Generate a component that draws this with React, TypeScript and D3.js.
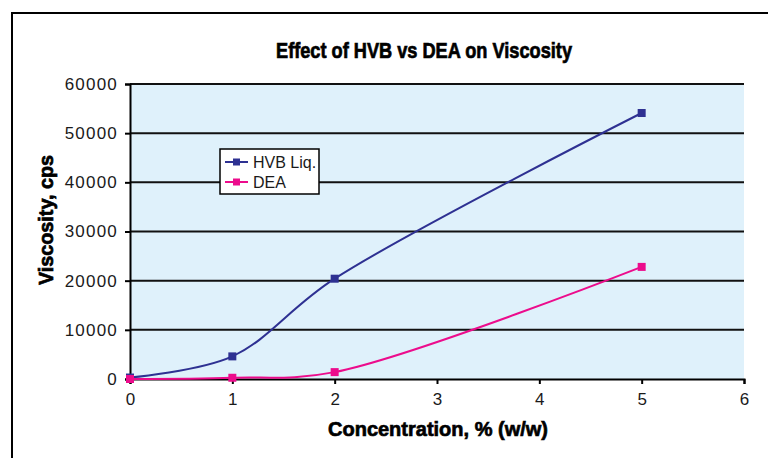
import React, { useRef, useEffect } from "react";
import * as d3 from "d3";

const concentrations = [0, 1, 2, 5];
const hvbValues = [300, 4600, 20400, 54100];
const deaValues = [0, 250, 1400, 22800];
const seriesNames = ["HVB Liq.", "DEA"];
const xTicks = [0, 1, 2, 3, 4, 5, 6];
const yTicks = [0, 10000, 20000, 30000, 40000, 50000, 60000];

const W = 768;
const H = 458;

export default function App() {
  const svgRef = useRef<SVGSVGElement>(null);

  useEffect(() => {
    if (!svgRef.current) return;
    const svg = d3.select(svgRef.current);
    svg.selectAll("*").remove();

    const margin = { top: 84, right: 24, bottom: 79, left: 130 };
    const innerW = W - margin.left - margin.right;
    const innerH = H - margin.top - margin.bottom;

    // outer frame, runs off the right and bottom edges
    svg
      .append("path")
      .attr("d", `M12,${H + 5} L12,13 L${W + 5},13`)
      .attr("fill", "none")
      .attr("stroke", "#000")
      .attr("stroke-width", 2);

    const font = "'Liberation Sans Narrow', 'Liberation Sans', sans-serif";

    svg
      .append("text")
      .attr("x", 424)
      .attr("y", 58)
      .attr("text-anchor", "middle")
      .attr("textLength", 296)
      .attr("lengthAdjust", "spacingAndGlyphs")
      .style("font-family", font)
      .style("font-weight", "bold")
      .style("font-size", "22px")
      .style("stroke", "#000")
      .style("stroke-width", 0.7)
      .text("Effect of HVB vs DEA on Viscosity");

    const g = svg.append("g").attr("transform", `translate(${margin.left},${margin.top})`);

    const x = d3.scaleLinear().domain([0, 6]).range([0, innerW]);
    const y = d3.scaleLinear().domain([0, 60000]).range([innerH, 0]);

    g.append("rect")
      .attr("width", innerW)
      .attr("height", innerH)
      .attr("fill", "#dff1fb");

    // gridlines
    g.selectAll(".grid")
      .data(yTicks.slice(1))
      .join("line")
      .attr("x1", 0)
      .attr("x2", innerW)
      .attr("y1", (d) => y(d))
      .attr("y2", (d) => y(d))
      .attr("stroke", "#111")
      .attr("stroke-width", 2);

    // Y axis
    const yAxis = g
      .append("g")
      .call(d3.axisLeft(y).tickValues(yTicks).tickSize(5).tickPadding(7).tickFormat(d3.format("d")));
    yAxis.select(".domain").attr("stroke", "#000").attr("stroke-width", 2);
    yAxis.selectAll(".tick line").attr("stroke", "#000").attr("stroke-width", 2);
    yAxis
      .selectAll("text")
      .style("font-family", font)
      .style("font-size", "17px")
      .style("letter-spacing", "1.2px")
      .style("fill", "#1a1a1a");

    // X axis
    const xAxis = g
      .append("g")
      .attr("transform", `translate(0,${innerH})`)
      .call(d3.axisBottom(x).tickValues(xTicks).tickSize(5).tickPadding(9).tickFormat(d3.format("d")));
    xAxis.select(".domain").attr("stroke", "#000").attr("stroke-width", 2);
    xAxis.selectAll(".tick line").attr("stroke", "#000").attr("stroke-width", 2);
    xAxis
      .selectAll("text")
      .style("font-family", font)
      .style("font-size", "17px")
      .style("fill", "#1a1a1a");

    // axis titles
    svg
      .append("text")
      .attr("x", 438)
      .attr("y", 436)
      .attr("text-anchor", "middle")
      .attr("textLength", 220)
      .attr("lengthAdjust", "spacingAndGlyphs")
      .style("font-family", font)
      .style("font-weight", "bold")
      .style("font-size", "21px")
      .style("stroke", "#000")
      .style("stroke-width", 0.7)
      .text("Concentration, % (w/w)");

    svg
      .append("text")
      .attr("transform", `translate(53,220) rotate(-90)`)
      .attr("text-anchor", "middle")
      .attr("textLength", 130)
      .attr("lengthAdjust", "spacingAndGlyphs")
      .style("font-family", font)
      .style("font-weight", "bold")
      .style("font-size", "20px")
      .style("stroke", "#000")
      .style("stroke-width", 0.7)
      .text("Viscosity, cps");

    const series = [
      { name: seriesNames[0], values: hvbValues, color: "#2e3192" },
      { name: seriesNames[1], values: deaValues, color: "#ec0c8c" },
    ];

    const line = d3
      .line<[number, number]>()
      .x((d) => x(d[0]))
      .y((d) => y(d[1]))
      .curve(d3.curveCatmullRom.alpha(0.5));

    series.forEach((s) => {
      const pts = concentrations.map((c, i) => [c, s.values[i]] as [number, number]);
      g.append("path")
        .datum(pts)
        .attr("d", line)
        .attr("fill", "none")
        .attr("stroke", s.color)
        .attr("stroke-width", 2);
      g.selectAll(null)
        .data(pts)
        .join("rect")
        .attr("x", (d) => x(d[0]) - 4)
        .attr("y", (d) => y(d[1]) - 4)
        .attr("width", 8)
        .attr("height", 8)
        .attr("fill", s.color);
    });

    // legend
    const lg = svg.append("g").attr("transform", "translate(220,149)");
    lg.append("rect")
      .attr("width", 99)
      .attr("height", 45)
      .attr("fill", "#fff")
      .attr("stroke", "#000")
      .attr("stroke-width", 1.5);
    series.forEach((s, i) => {
      const cy = 13 + i * 20;
      lg.append("line")
        .attr("x1", 5)
        .attr("x2", 28)
        .attr("y1", cy)
        .attr("y2", cy)
        .attr("stroke", s.color)
        .attr("stroke-width", 2);
      lg.append("rect")
        .attr("x", 13)
        .attr("y", cy - 3.5)
        .attr("width", 7)
        .attr("height", 7)
        .attr("fill", s.color);
      lg.append("text")
        .attr("x", 33)
        .attr("y", cy + 5.5)
        .style("font-family", font)
        .style("font-size", "16px")
        .style("fill", "#1a1a1a")
        .text(s.name);
    });
  }, []);

  return <svg ref={svgRef} width={W} height={H} style={{ display: "block", position: "absolute", left: 0, top: 0 }} />;
}
